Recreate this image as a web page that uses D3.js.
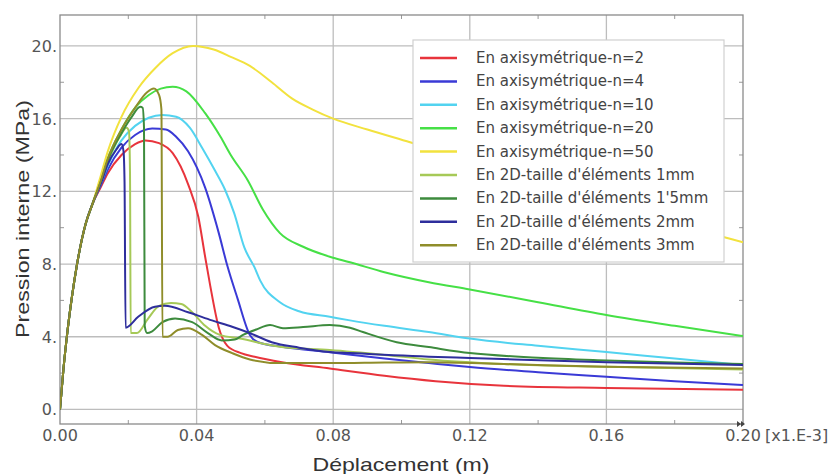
<!DOCTYPE html>
<html>
<head>
<meta charset="utf-8">
<script src="https://cdn.jsdelivr.net/npm/d3@7"></script>
<style>
  body { margin: 0; background: #fff; }
  svg { display: block; }
</style>
</head>
<body>
<svg width="837" height="474"></svg>
<script>
// data (x in [x1.E-3] m, y in MPa)
let xTicks = [0, 0.04, 0.08, 0.12, 0.16, 0.2];
let xTickLabels = ["0.00", "0.04", "0.08", "0.12", "0.16", "0.20"];
let xMinor = [0.02, 0.06, 0.1, 0.14, 0.18];
let yTicks = [0, 4, 8, 12, 16, 20];
let yTickLabels = ["0.", "4.", "8.", "12.", "16.", "20."];
let yMinor = [2, 6, 10, 14, 18];

let names = [
  "En axisymétrique-n=2",
  "En axisymétrique-n=4",
  "En axisymétrique-n=10",
  "En axisymétrique-n=20",
  "En axisymétrique-n=50",
  "En 2D-taille d'éléments 1mm",
  "En 2D-taille d'éléments 1'5mm",
  "En 2D-taille d'éléments 2mm",
  "En 2D-taille d'éléments 3mm",
];

// shared elastic start
let rise = [[0, 0], [0.001, 2.2], [0.002, 4], [0.0035, 6.2], [0.005, 8], [0.0075, 10.2], [0.0095, 11.3]];

let n2 = rise.concat([[0.012, 12.25], [0.014, 13.0], [0.018, 14.0], [0.022, 14.6], [0.025, 14.8], [0.029, 14.65], [0.033, 14.1],
  [0.0375, 12.4], [0.0405, 10.6], [0.0425, 8.4], [0.044, 6.8], [0.0465, 4.5], [0.049, 3.5], [0.053, 3.1],
  [0.057, 2.9], [0.065, 2.6], [0.079, 2.25], [0.095, 1.85], [0.11, 1.55], [0.13, 1.3], [0.16, 1.18], [0.2, 1.08]]);

let n4 = rise.concat([[0.012, 12.35], [0.014, 13.2], [0.018, 14.4], [0.022, 15.1], [0.027, 15.45], [0.031, 15.4], [0.034, 15.0],
  [0.0375, 14.2], [0.0425, 12.2], [0.0465, 9.7], [0.049, 7.9], [0.052, 6.1], [0.0556, 4.1], [0.058, 3.7],
  [0.065, 3.45], [0.079, 3.15], [0.095, 2.8], [0.108, 2.55], [0.12, 2.33], [0.14, 2.05], [0.16, 1.8],
  [0.18, 1.55], [0.2, 1.35]]);

let n10 = rise.concat([[0.012, 12.45], [0.014, 13.4], [0.018, 14.8], [0.022, 15.6], [0.026, 16.05], [0.03, 16.2], [0.034, 16.1],
  [0.038, 15.5], [0.0416, 14.4], [0.0455, 13.1], [0.0483, 12.1], [0.051, 10.8], [0.054, 8.9], [0.057, 7.8],
  [0.0586, 7.1], [0.0644, 5.9], [0.07, 5.4], [0.079, 5.1], [0.0849, 4.9], [0.095, 4.6], [0.108, 4.26],
  [0.12, 3.9], [0.14, 3.5], [0.16, 3.16], [0.18, 2.8], [0.2, 2.45]]);

let n20 = rise.concat([[0.012, 12.6], [0.014, 13.8], [0.018, 15.4], [0.022, 16.6], [0.026, 17.3], [0.0295, 17.65], [0.033, 17.75],
  [0.037, 17.5], [0.0425, 16.3], [0.047, 15.0], [0.05, 14.0], [0.055, 12.6], [0.0594, 11.0], [0.0644, 9.7],
  [0.0712, 8.95], [0.079, 8.4], [0.0849, 8.1], [0.095, 7.55], [0.108, 7.0], [0.12, 6.6], [0.14, 5.9],
  [0.16, 5.2], [0.18, 4.6], [0.2, 4.04]]);

let n50 = rise.concat([[0.012, 12.9], [0.014, 14.2], [0.018, 16.1], [0.023, 17.7], [0.028, 18.8], [0.033, 19.6], [0.039, 20.0],
  [0.045, 19.8], [0.05, 19.4], [0.0556, 18.9], [0.062, 18.0], [0.068, 17.1], [0.074, 16.5], [0.08, 16.0],
  [0.09, 15.4], [0.1025, 14.7], [0.12, 13.7], [0.14, 12.5], [0.16, 11.3], [0.18, 10.2], [0.194, 9.5], [0.2, 9.2]]);

let e1mm = rise.concat([[0.012, 12.5], [0.014, 13.6], [0.0175, 15.0], [0.0195, 15.5], [0.0202, 15.3], [0.0205, 13.0], [0.0207, 4.2],
  [0.0225, 4.2], [0.0258, 5.0], [0.029, 5.7], [0.0325, 5.85], [0.0355, 5.8], [0.0387, 5.35], [0.0425, 4.6],
  [0.0468, 4.1], [0.0527, 3.9], [0.0644, 3.45], [0.079, 3.27], [0.095, 3.0], [0.108, 2.75], [0.13, 2.5],
  [0.16, 2.35], [0.2, 2.2]]);

let e15mm = rise.concat([[0.012, 12.55], [0.014, 13.7], [0.018, 15.2], [0.021, 16.1], [0.0235, 16.65], [0.0242, 16.6], [0.0246, 15.5],
  [0.0248, 4.6], [0.0255, 4.2], [0.027, 4.3], [0.03, 4.8], [0.0337, 5.0], [0.0387, 4.8], [0.0433, 4.2],
  [0.0474, 3.8], [0.0512, 3.85], [0.0536, 4.1], [0.0575, 4.4], [0.0615, 4.64], [0.0653, 4.47], [0.0712, 4.53],
  [0.079, 4.64], [0.0849, 4.5], [0.0887, 4.26], [0.0986, 3.7], [0.108, 3.43], [0.12, 3.1], [0.14, 2.85],
  [0.16, 2.7], [0.18, 2.58], [0.2, 2.5]]);

let e2mm = rise.concat([[0.012, 12.45], [0.014, 13.5], [0.0165, 14.3], [0.018, 14.6], [0.0186, 14.2], [0.0189, 12.5], [0.0192, 4.5],
  [0.0229, 5.1], [0.0278, 5.65], [0.0307, 5.7], [0.0375, 5.35], [0.0445, 4.9], [0.0504, 4.55], [0.0556, 4.2],
  [0.062, 3.7], [0.07, 3.4], [0.079, 3.16], [0.0849, 3.1], [0.108, 2.9], [0.12, 2.83], [0.16, 2.6], [0.2, 2.45]]);

let e3mm = rise.concat([[0.012, 12.6], [0.014, 13.8], [0.018, 15.4], [0.022, 16.6], [0.0255, 17.45], [0.0275, 17.65], [0.029, 17.3],
  [0.0297, 16.5], [0.03, 4.0], [0.0315, 4.0], [0.0345, 4.37], [0.0375, 4.47], [0.0416, 4.1], [0.0454, 3.54],
  [0.0504, 3.1], [0.0556, 2.75], [0.0644, 2.55], [0.079, 2.55], [0.095, 2.58], [0.108, 2.6], [0.13, 2.5],
  [0.16, 2.35], [0.2, 2.25]]);

let series = [n2, n4, n10, n20, n50, e1mm, e15mm, e2mm, e3mm];
let colors = ["#e8343c", "#3a3ad6", "#52d3f0", "#46e046", "#f2e23e", "#a6c957", "#3d8b3d", "#2e2e9c", "#8f8d2a"];

// layout
let pLeft = 60, pRight = 743, pTop = 15, pBottom = 424;
let x = d3.scaleLinear().domain([0, 0.2]).range([pLeft, pRight]);
let y = d3.scaleLinear().domain([-0.8, 21.7]).range([pBottom, pTop]);

let svg = d3.select("svg");

// grid
svg.append("g")
  .selectAll("line")
  .data(xTicks.slice(1, -1))
  .enter()
  .append("line")
  .attr("x1", function (d) { return x(d); })
  .attr("x2", function (d) { return x(d); })
  .attr("y1", pTop)
  .attr("y2", pBottom)
  .attr("stroke", "#bdbdbd")
  .attr("stroke-width", 1.3);

svg.append("g")
  .selectAll("line")
  .data(yTicks)
  .enter()
  .append("line")
  .attr("x1", pLeft)
  .attr("x2", pRight)
  .attr("y1", function (d) { return y(d); })
  .attr("y2", function (d) { return y(d); })
  .attr("stroke", "#bdbdbd")
  .attr("stroke-width", 1.3);

// minor ticks inside the frame
let minor = svg.append("g").attr("stroke", "#999").attr("stroke-width", 1);
yMinor.forEach(function (d) {
  minor.append("line").attr("x1", pLeft).attr("x2", pLeft + 4).attr("y1", y(d)).attr("y2", y(d));
  minor.append("line").attr("x1", pRight - 4).attr("x2", pRight).attr("y1", y(d)).attr("y2", y(d));
});
xMinor.forEach(function (d) {
  minor.append("line").attr("x1", x(d)).attr("x2", x(d)).attr("y1", pBottom).attr("y2", pBottom - 4);
  minor.append("line").attr("x1", x(d)).attr("x2", x(d)).attr("y1", pTop).attr("y2", pTop + 4);
});

// frame
svg.append("rect")
  .attr("x", pLeft)
  .attr("y", pTop)
  .attr("width", pRight - pLeft)
  .attr("height", pBottom - pTop)
  .attr("fill", "none")
  .attr("stroke", "#8a8a8a")
  .attr("stroke-width", 1.3);

// curves
svg.append("clipPath").attr("id", "plot")
  .append("rect").attr("x", pLeft).attr("y", pTop).attr("width", pRight - pLeft).attr("height", pBottom - pTop);

let line = d3.line()
  .x(function (d) { return x(d[0]); })
  .y(function (d) { return y(d[1]); })
  .curve(d3.curveMonotoneX);

svg.append("g")
  .attr("clip-path", "url(#plot)")
  .selectAll("path")
  .data(series)
  .enter()
  .append("path")
  .attr("d", line)
  .attr("fill", "none")
  .attr("stroke", function (d, i) { return colors[i]; })
  .attr("stroke-width", 2)
  .attr("stroke-linejoin", "round");

// tick labels
svg.append("g")
  .selectAll("text")
  .data(yTicks)
  .enter()
  .append("text")
  .attr("x", pLeft - 3)
  .attr("y", function (d) { return y(d) + 6; })
  .attr("text-anchor", "end")
  .style("font", "16px 'DejaVu Sans'")
  .style("fill", "#555")
  .text(function (d, i) { return yTickLabels[i]; });

svg.append("g")
  .selectAll("text")
  .data(xTicks)
  .enter()
  .append("text")
  .attr("x", function (d) { return x(d); })
  .attr("y", 441)
  .attr("text-anchor", "middle")
  .style("font", "16px 'DejaVu Sans'")
  .style("fill", "#555")
  .text(function (d, i) { return xTickLabels[i]; });

svg.append("text")
  .attr("x", x(0.2) + 22)
  .attr("y", 441)
  .style("font", "16px 'DejaVu Sans'")
  .style("fill", "#555")
  .text("[x1.E-3]");

// little arrow at the end of the x axis
svg.append("path")
  .attr("d", "M" + (pRight - 6) + "," + (pBottom - 3) + "l4,3l-4,3z M" + (pRight - 2) + "," + (pBottom - 3) + "l4,3l-4,3z")
  .attr("fill", "#444");

// axis titles
svg.append("text")
  .attr("x", 401)
  .attr("y", 471)
  .attr("text-anchor", "middle")
  .attr("textLength", 177)
  .attr("lengthAdjust", "spacingAndGlyphs")
  .style("font", "19px 'Liberation Sans'")
  .style("fill", "#333")
  .text("Déplacement (m)");

svg.append("text")
  .attr("transform", "translate(29,219) rotate(-90)")
  .attr("text-anchor", "middle")
  .attr("textLength", 238)
  .attr("lengthAdjust", "spacingAndGlyphs")
  .style("font", "19px 'Liberation Sans'")
  .style("fill", "#333")
  .text("Pression interne (MPa)");

// legend
let legend = svg.append("g");
legend.append("rect")
  .attr("x", 413)
  .attr("y", 40)
  .attr("width", 311)
  .attr("height", 222)
  .attr("fill", "#fff")
  .attr("stroke", "#d0d0d0")
  .attr("stroke-width", 1.2);

let rows = legend.selectAll("g.row")
  .data(names)
  .enter()
  .append("g")
  .classed("row", true)
  .attr("transform", function (d, i) { return "translate(0," + (58 + i * 23.4) + ")"; });

rows.append("line")
  .attr("x1", 420)
  .attr("x2", 457)
  .attr("stroke", function (d, i) { return colors[i]; })
  .attr("stroke-width", 2.5);

rows.append("text")
  .attr("x", 476)
  .attr("y", 5)
  .style("font", "15px 'DejaVu Sans'")
  .style("fill", "#444")
  .text(function (d) { return d; });
</script>
</body>
</html>
